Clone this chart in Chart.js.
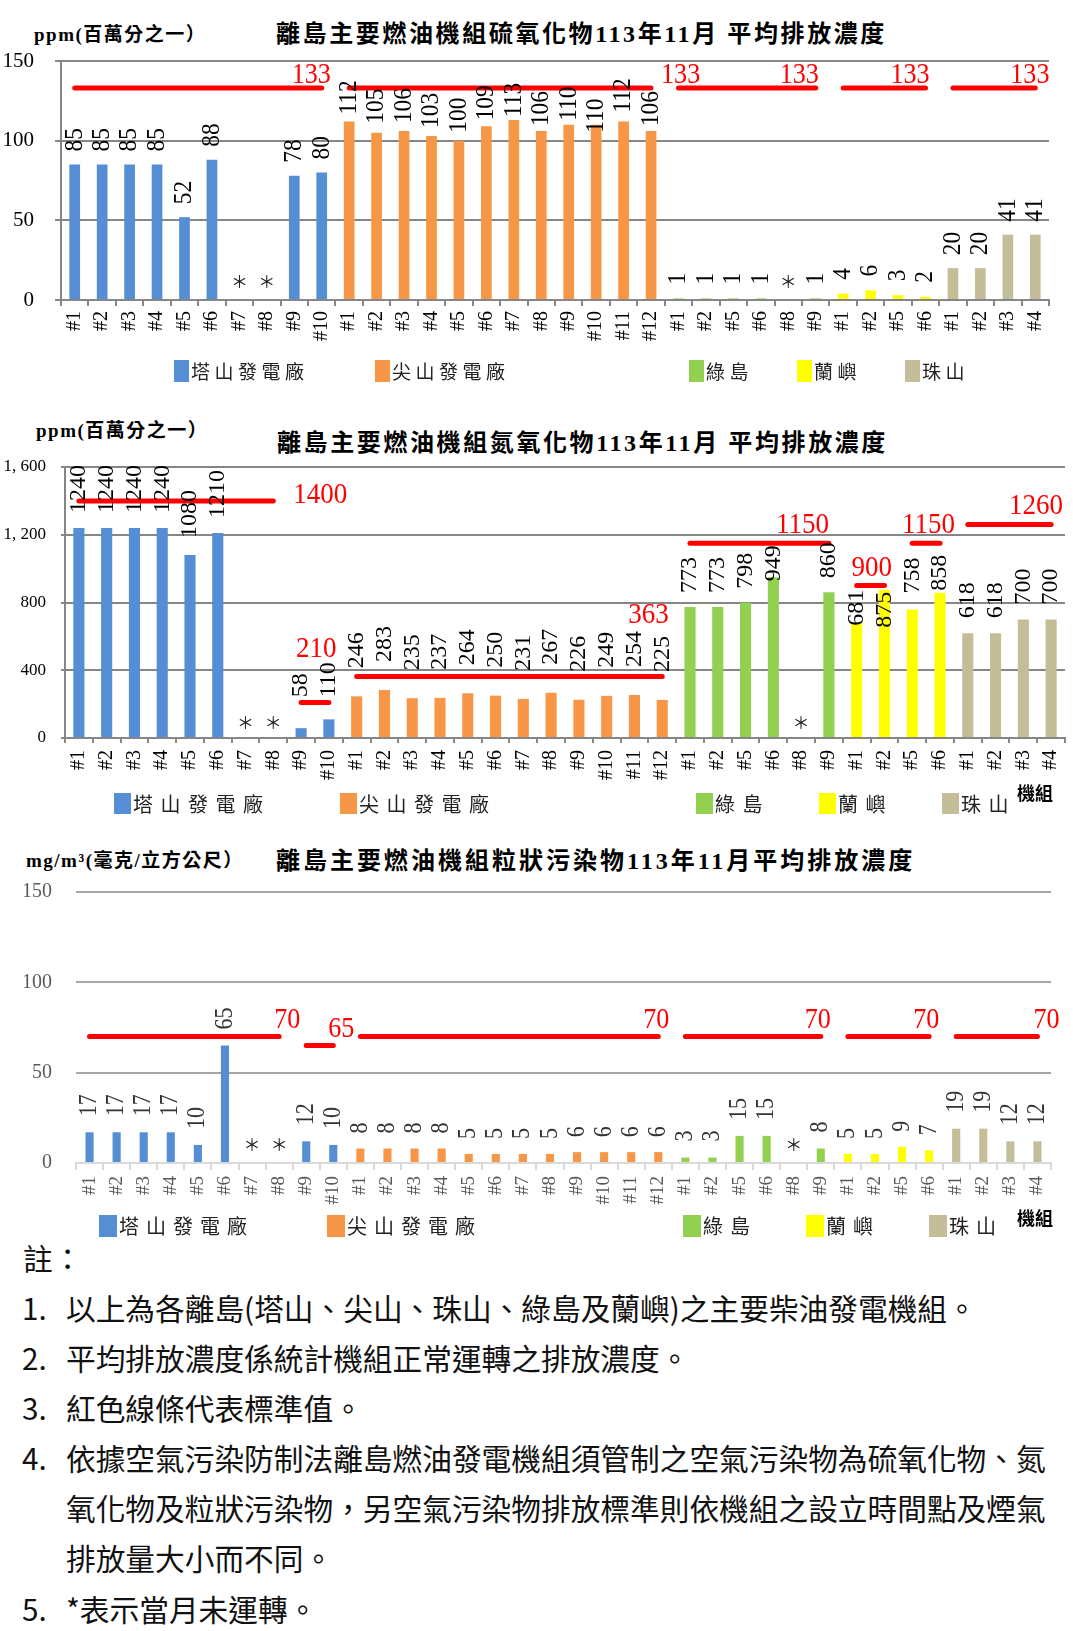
<!DOCTYPE html>
<html lang="zh-Hant">
<head>
<meta charset="utf-8">
<title>離島主要燃油機組113年11月平均排放濃度</title>
<script src="https://cdn.jsdelivr.net/npm/chart.js@4.4.1/dist/chart.umd.min.js"></script>
<style>
  body { margin: 0; width: 1073px; height: 1631px; position: relative; overflow: hidden; background: #fff; font-family: "Noto Sans CJK TC", sans-serif; }
  canvas { position: absolute; left: 0; }
  .abs { position: absolute; white-space: nowrap; }
  .unit { font: bold 19px "Liberation Serif", "Noto Sans CJK TC"; letter-spacing: 1.5px; height: 24px; line-height: 24px; }
  .title { font: bold 24px "Liberation Serif", "Noto Sans CJK TC"; letter-spacing: 2.6px; height: 30px; line-height: 30px; }
  .title.wide { letter-spacing: 3px; }
  .sw { position: absolute; }
  .key { position: absolute; white-space: nowrap; color: #222; font-family: "Noto Sans CJK TC"; }
  .jizu { font: bold 18px "Noto Sans CJK TC"; height: 22px; line-height: 22px; }
  .note { position: absolute; white-space: nowrap; font-size: 29.7px; height: 40px; line-height: 40px; color: #111; }
</style>
</head>
<body>

<div class="abs unit" style="left:34px;top:23px">ppm(百萬分之一）</div>
<div class="abs title" style="left:276px;top:19px">離島主要燃油機組硫氧化物113年11月 平均排放濃度</div>
<canvas id="soxChart" width="1073" height="320" style="top:40px"></canvas>

<div class="abs unit" style="left:36px;top:419px">ppm(百萬分之一）</div>
<div class="abs title" style="left:277px;top:428px">離島主要燃油機組氮氧化物113年11月 平均排放濃度</div>
<canvas id="noxChart" width="1073" height="360" style="top:450px"></canvas>
<div class="abs jizu" style="left:1017px;top:781px">機組</div>

<div class="abs unit" style="left:26px;top:849px">mg/m³(毫克/立方公尺）</div>
<div class="abs title wide" style="left:276px;top:846px">離島主要燃油機組粒狀污染物113年11月平均排放濃度</div>
<canvas id="pmChart" width="1073" height="340" style="top:875px"></canvas>
<div class="abs jizu" style="left:1017px;top:1206px">機組</div>

<div id="legends"></div>

<div class="note" style="left:23px;top:1238px">註：</div>
<div class="note" style="left:22px;top:1288px">1.</div>
<div class="note" style="left:66px;top:1288px">以上為各離島(塔山、尖山、珠山、綠島及蘭嶼)之主要柴油發電機組。</div>
<div class="note" style="left:22px;top:1338px">2.</div>
<div class="note" style="left:66px;top:1338px">平均排放濃度係統計機組正常運轉之排放濃度。</div>
<div class="note" style="left:22px;top:1388px">3.</div>
<div class="note" style="left:66px;top:1388px">紅色線條代表標準值。</div>
<div class="note" style="left:22px;top:1438px">4.</div>
<div class="note" style="left:66px;top:1438px">依據空氣污染防制法離島燃油發電機組須管制之空氣污染物為硫氧化物、氮</div>
<div class="note" style="left:66px;top:1488px">氧化物及粒狀污染物，另空氣污染物排放標準則依機組之設立時間點及煙氣</div>
<div class="note" style="left:66px;top:1538px">排放量大小而不同。</div>
<div class="note" style="left:22px;top:1589px">5.</div>
<div class="note" style="left:66px;top:1589px">*表示當月未運轉。</div>

<script>
'use strict';

// units of each plant
let taishanUnits = ['#1', '#2', '#3', '#4', '#5', '#6', '#7', '#8', '#9', '#10'];
let jianshanUnits = ['#1', '#2', '#3', '#4', '#5', '#6', '#7', '#8', '#9', '#10', '#11', '#12'];
let ludaoUnits = ['#1', '#2', '#5', '#6', '#8', '#9'];
let lanyuUnits = ['#1', '#2', '#5', '#6'];
let zhushanUnits = ['#1', '#2', '#3', '#4'];
let plantNames = ['塔山發電廠', '尖山發電廠', '綠島', '蘭嶼', '珠山'];

// SOx, ppm (null = not running that month)
let soxTaishan = [85, 85, 85, 85, 52, 88, null, null, 78, 80];
let soxJianshan = [112, 105, 106, 103, 100, 109, 113, 106, 110, 110, 112, 106];
let soxLudao = [1, 1, 1, 1, null, 1];
let soxLanyu = [4, 6, 3, 2];
let soxZhushan = [20, 20, 41, 41];
// standards: [first unit, last unit, value]
let soxLimits = [[0, 9, 133], [10, 21, 133], [22, 27, 133], [28, 31, 133], [32, 35, 133]];
let soxTicks = [0, 50, 100, 150];

// NOx, ppm
let noxTaishan = [1240, 1240, 1240, 1240, 1080, 1210, null, null, 58, 110];
let noxJianshan = [246, 283, 235, 237, 264, 250, 231, 267, 226, 249, 254, 225];
let noxLudao = [773, 773, 798, 949, null, 860];
let noxLanyu = [681, 875, 758, 858];
let noxZhushan = [618, 618, 700, 700];
let noxLimits = [[0, 7, 1400], [8, 9, 210], [10, 21, 363], [22, 27, 1150], [28, 29, 900], [30, 31, 1150], [32, 35, 1260]];
let noxTicks = [0, 400, 800, 1200, 1600];

// particulate matter, mg/m3
let pmTaishan = [17, 17, 17, 17, 10, 65, null, null, 12, 10];
let pmJianshan = [8, 8, 8, 8, 5, 5, 5, 5, 6, 6, 6, 6];
let pmLudao = [3, 3, 15, 15, null, 8];
let pmLanyu = [5, 5, 9, 7];
let pmZhushan = [19, 19, 12, 12];
let pmLimits = [[0, 7, 70], [8, 9, 65], [10, 21, 70], [22, 27, 70], [28, 31, 70], [32, 35, 70]];
let pmTicks = [0, 50, 100, 150];

let unitLists = [taishanUnits, jianshanUnits, ludaoUnits, lanyuUnits, zhushanUnits];
let plantColors = ['#558ed5', '#f79646', '#92d050', '#ffff00', '#c4bd97'];

// where the red value sits, relative to the end of its line [dx, dy]
let soxLimitShift = [[-30, -5], [10, -5], [-36, -5], [-35, -5], [-25, -5]];
let noxLimitShift = [[20, 2], [-33, -45], [-34, -54], [-53, -10], [-33, -10], [-38, -10], [-42, -11]];
let pmLimitShift = [[-5, -9], [-5, -9], [-15, -9], [-16, -9], [-16, -9], [-4, -9]];

// space between bar top and its value (some labels were moved by hand in the original)
let soxGaps = [13, [7, 9, 8, 8, 8, 6, 3, 5, 4, -8, 9, 5], 14, 14, 13];
let noxGaps = [[15, 15, 15, 15, 17, 15, 0, 0, 31, 22], 28, [14, 14, 14, -4, 0, 14], [-3, -38, 16, 2], 15];
let pmGaps = [16, 15, 16, 15, 16];

let valueLabels = {
    id: 'valueLabels',
    afterDatasetsDraw(chart, args, opts) {
        let ctx = chart.ctx;
        let xs = chart.scales.x;
        let ys = chart.scales.y;
        chart.data.datasets.forEach(function (ds, di) {
            let meta = chart.getDatasetMeta(di);
            ctx.save();
            if (ds.type === 'bar') {
                ctx.font = opts.font;
                ctx.fillStyle = opts.color;
                meta.data.forEach(function (bar, i) {
                    if (ds.data[i] === null) return;
                    let gap = Array.isArray(ds.labelGap) ? ds.labelGap[i - ds.first] : ds.labelGap;
                    ctx.save();
                    ctx.translate(bar.x, bar.y - gap);
                    ctx.rotate(-Math.PI / 2);
                    ctx.scale(opts.squeeze, 1);
                    ctx.textAlign = 'left';
                    ctx.textBaseline = 'middle';
                    ctx.fillText(String(ds.data[i]), 0, 0);
                    ctx.restore();
                });
                // units that did not run
                ctx.font = '17px "Noto Sans CJK TC"';
                ctx.fillStyle = '#222';
                ctx.textAlign = 'center';
                ctx.textBaseline = 'middle';
                ds.stopped.forEach(function (i) {
                    ctx.fillText('＊', xs.getPixelForValue(i), ys.getPixelForValue(0) - opts.starLift);
                });
            } else {
                let last = -1;
                ds.data.forEach(function (v, i) { if (v !== null) last = i; });
                let pt = meta.data[last];
                ctx.font = opts.limitFont;
                ctx.fillStyle = '#ff0000';
                ctx.textAlign = 'left';
                ctx.textBaseline = 'alphabetic';
                ctx.translate(pt.x + ds.labelShift[0], pt.y + ds.labelShift[1]);
                ctx.scale(0.9, 1);
                ctx.fillText(ds.limitLabel, 0, 0);
            }
            ctx.restore();
        });
    }
};

function makeChart(id, groups, limits, ticks, cfg) {
    let total = 0;
    groups.forEach(function (g) { total += g.length; });
    let labels = [];
    let datasets = [];
    let offset = 0;
    groups.forEach(function (vals, gi) {
        labels = labels.concat(unitLists[gi]);
        let data = new Array(total).fill(null);
        let stopped = [];
        vals.forEach(function (v, i) {
            data[offset + i] = v;
            if (v === null) stopped.push(offset + i);
        });
        datasets.push({
            type: 'bar',
            label: plantNames[gi],
            data: data,
            backgroundColor: plantColors[gi],
            grouped: false,
            barPercentage: cfg.barPct,
            categoryPercentage: 1,
            order: 2,
            first: offset,
            labelGap: cfg.gaps[gi],
            stopped: stopped
        });
        offset += vals.length;
    });
    limits.forEach(function (lim, k) {
        let data = new Array(total).fill(null);
        for (let i = lim[0]; i <= lim[1]; i++) data[i] = lim[2];
        datasets.push({
            type: 'line',
            label: 'limit',
            data: data,
            borderColor: '#ff0000',
            borderWidth: 5,
            borderCapStyle: 'round',
            pointRadius: 0,
            spanGaps: false,
            order: 1,
            limitLabel: String(lim[2]),
            labelShift: cfg.limitShift[k]
        });
    });

    return new Chart(document.getElementById(id), {
        type: 'bar',
        data: { labels: labels, datasets: datasets },
        plugins: [valueLabels],
        options: {
            responsive: false,
            animation: false,
            events: [],
            layout: { padding: { top: cfg.top, right: cfg.right, left: 0, bottom: 0 } },
            plugins: {
                legend: { display: false },
                tooltip: { enabled: false },
                valueLabels: {
                    font: cfg.valueFont,
                    color: cfg.valueColor,
                    squeeze: cfg.squeeze,
                    starLift: cfg.starLift,
                    limitFont: cfg.limitFont
                }
            },
            scales: {
                x: {
                    grid: { drawOnChartArea: false, tickLength: cfg.xTick, color: cfg.axisColor, lineWidth: 2 },
                    border: { color: cfg.axisColor, width: 2 },
                    ticks: {
                        autoSkip: false, minRotation: 90, maxRotation: 90, padding: cfg.xPad,
                        color: cfg.tickColor, font: { family: 'Liberation Serif', size: cfg.xFont }
                    },
                    afterFit: function (s) { s.height = cfg.xHeight; s.paddingLeft = 0; s.paddingRight = 0; }
                },
                y: {
                    min: ticks[0],
                    max: ticks[ticks.length - 1],
                    grid: { color: cfg.gridColor, lineWidth: 2, tickLength: cfg.yTick, drawTicks: cfg.yTick > 0 },
                    border: { display: cfg.yBorder, color: cfg.axisColor, width: 2 },
                    ticks: {
                        padding: cfg.yPad, color: cfg.tickColor,
                        font: { family: 'Liberation Serif', size: cfg.yFont },
                        callback: cfg.yFormat
                    },
                    afterBuildTicks: function (s) { s.ticks = ticks.map(function (v) { return { value: v }; }); },
                    afterFit: function (s) { s.width = cfg.yWidth; s.paddingTop = 0; s.paddingBottom = 0; }
                }
            }
        }
    });
}

function commaSpace(v) {
    if (v < 1000) return String(v);
    return Math.floor(v / 1000) + ', ' + String(v % 1000).padStart(3, '0');
}

makeChart('soxChart', [soxTaishan, soxJianshan, soxLudao, soxLanyu, soxZhushan], soxLimits, soxTicks, {
    top: 21, right: 24, xHeight: 60, yWidth: 61, barPct: 0.39,
    gaps: soxGaps, limitShift: soxLimitShift,
    valueFont: '26px "Liberation Serif"', valueColor: '#000', squeeze: 0.9, starLift: 18,
    limitFont: '29px "Liberation Serif"',
    axisColor: '#868686', gridColor: '#868686', tickColor: '#000', yBorder: true,
    xTick: 6, xPad: 5, xFont: 20, yTick: 6, yPad: 21, yFont: 21
});

makeChart('noxChart', [noxTaishan, noxJianshan, noxLudao, noxLanyu, noxZhushan], noxLimits, noxTicks, {
    top: 17, right: 8, xHeight: 72, yWidth: 65, barPct: 0.4,
    gaps: noxGaps, limitShift: noxLimitShift,
    valueFont: '24px "Liberation Serif"', valueColor: '#000', squeeze: 1, starLift: 15,
    limitFont: '30px "Liberation Serif"',
    axisColor: '#868686', gridColor: '#868686', tickColor: '#000', yBorder: true,
    xTick: 5, xPad: 7, xFont: 20, yTick: 4, yPad: 15, yFont: 17, yFormat: commaSpace
});

makeChart('pmChart', [pmTaishan, pmJianshan, pmLudao, pmLanyu, pmZhushan], pmLimits, pmTicks, {
    top: 17, right: 22, xHeight: 52, yWidth: 76, barPct: 0.3,
    gaps: pmGaps, limitShift: pmLimitShift,
    valueFont: '25px "Liberation Serif"', valueColor: '#333', squeeze: 0.88, starLift: 18,
    limitFont: '29px "Liberation Serif"',
    axisColor: '#d9d9d9', gridColor: '#a6a6a6', tickColor: '#595959', yBorder: false,
    xTick: 7, xPad: 6, xFont: 19, yTick: 0, yPad: 24, yFont: 20
});

// legends under each chart
let legendSpots = [
    { top: 360, h: 22, w: 15, size: 19, gap: 4.5, xs: [174, 375, 689, 797, 905] },
    { top: 793, h: 21, w: 17, size: 20, gap: 7.5, xs: [114, 340, 696, 819, 942] },
    { top: 1215, h: 22, w: 18, size: 20, gap: 7, xs: [99, 327, 683, 806, 929] }
];
let legendsEl = document.getElementById('legends');
legendSpots.forEach(function (spot) {
    plantNames.forEach(function (name, i) {
        let sw = document.createElement('div');
        sw.className = 'sw';
        sw.style.cssText = 'left:' + spot.xs[i] + 'px;top:' + spot.top + 'px;width:' + spot.w + 'px;height:' + spot.h + 'px;background:' + plantColors[i];
        legendsEl.appendChild(sw);
        let key = document.createElement('div');
        key.className = 'key';
        key.textContent = name;
        key.style.cssText = 'left:' + (spot.xs[i] + spot.w + 2) + 'px;top:' + spot.top + 'px;height:' + spot.h + 'px;line-height:' + spot.h + 'px;font-size:' + spot.size + 'px;letter-spacing:' + spot.gap + 'px';
        legendsEl.appendChild(key);
    });
});
</script>
</body>
</html>
